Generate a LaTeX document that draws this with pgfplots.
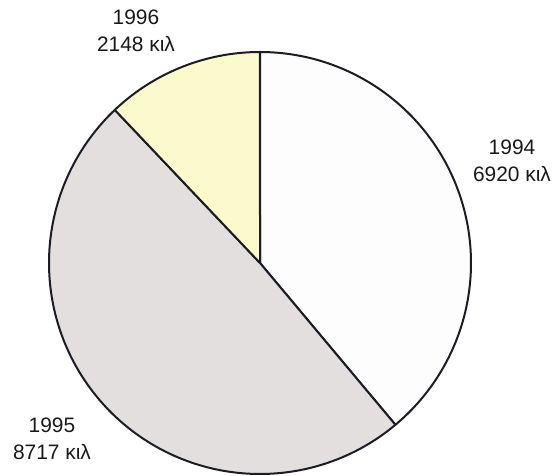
\documentclass[border=0pt]{standalone}
\usepackage{pgfplots}
\pgfplotsset{compat=1.18}
\usepackage{pgfplotstable}
\usepackage{fontspec}
\setmainfont{Liberation Sans}
\definecolor{cA}{RGB}{253,253,253}
\definecolor{cB}{RGB}{227,223,223}
\definecolor{cC}{RGB}{251,250,205}
\definecolor{edge}{RGB}{28,28,38}
\pgfplotstableread{
year value
1994 6920
1995 8717
1996 2148
}\piedata
\pgfplotstablegetelem{0}{value}\of\piedata\let\va\pgfplotsretval
\pgfplotstablegetelem{1}{value}\of\piedata\let\vb\pgfplotsretval
\pgfplotstablegetelem{2}{value}\of\piedata\let\vc\pgfplotsretval
\pgfmathsetmacro\tot{\va/100+\vb/100+\vc/100}
\pgfmathsetmacro\aA{90}
\pgfmathsetmacro\aB{90-(\va/100)/\tot*360}
\pgfmathsetmacro\aC{\aB-(\vb/100)/\tot*360}
\pgfmathsetmacro\aD{\aC-(\vc/100)/\tot*360}
\begin{document}
\begin{tikzpicture}
\begin{axis}[
  scale only axis, width=555bp, height=476bp,
  xmin=0, xmax=555, ymin=0, ymax=476,
  hide axis, clip=false,
]
\addplot[fill=cA, draw=edge, line width=2bp, line join=round, domain=\aB:\aA, samples=120, variable=\t]
  ({260+211*cos(\t)},{213+211*sin(\t)}) -- (axis cs:260,213) -- cycle;
\addplot[fill=cB, draw=edge, line width=2bp, line join=round, domain=\aC:\aB, samples=150, variable=\t]
  ({260+211*cos(\t)},{213+211*sin(\t)}) -- (axis cs:260,213) -- cycle;
\addplot[fill=cC, draw=edge, line width=2bp, line join=round, domain=\aD:\aC, samples=60, variable=\t]
  ({260+211*cos(\t)},{213+211*sin(\t)}) -- (axis cs:260,213) -- cycle;
\node[align=center, font=\fontsize{21}{27}\selectfont, text=black!90] at (axis cs:136,445) {1996\\2148 κιλ};
\node[align=center, font=\fontsize{21}{27}\selectfont, text=black!90] at (axis cs:512,315) {1994\\6920 κιλ};
\node[align=center, font=\fontsize{21}{27}\selectfont, text=black!90] at (axis cs:52,37) {1995\\8717 κιλ};
\end{axis}
\pgfresetboundingbox
\path (current axis.south west) rectangle (current axis.north east);
\end{tikzpicture}
\end{document}
